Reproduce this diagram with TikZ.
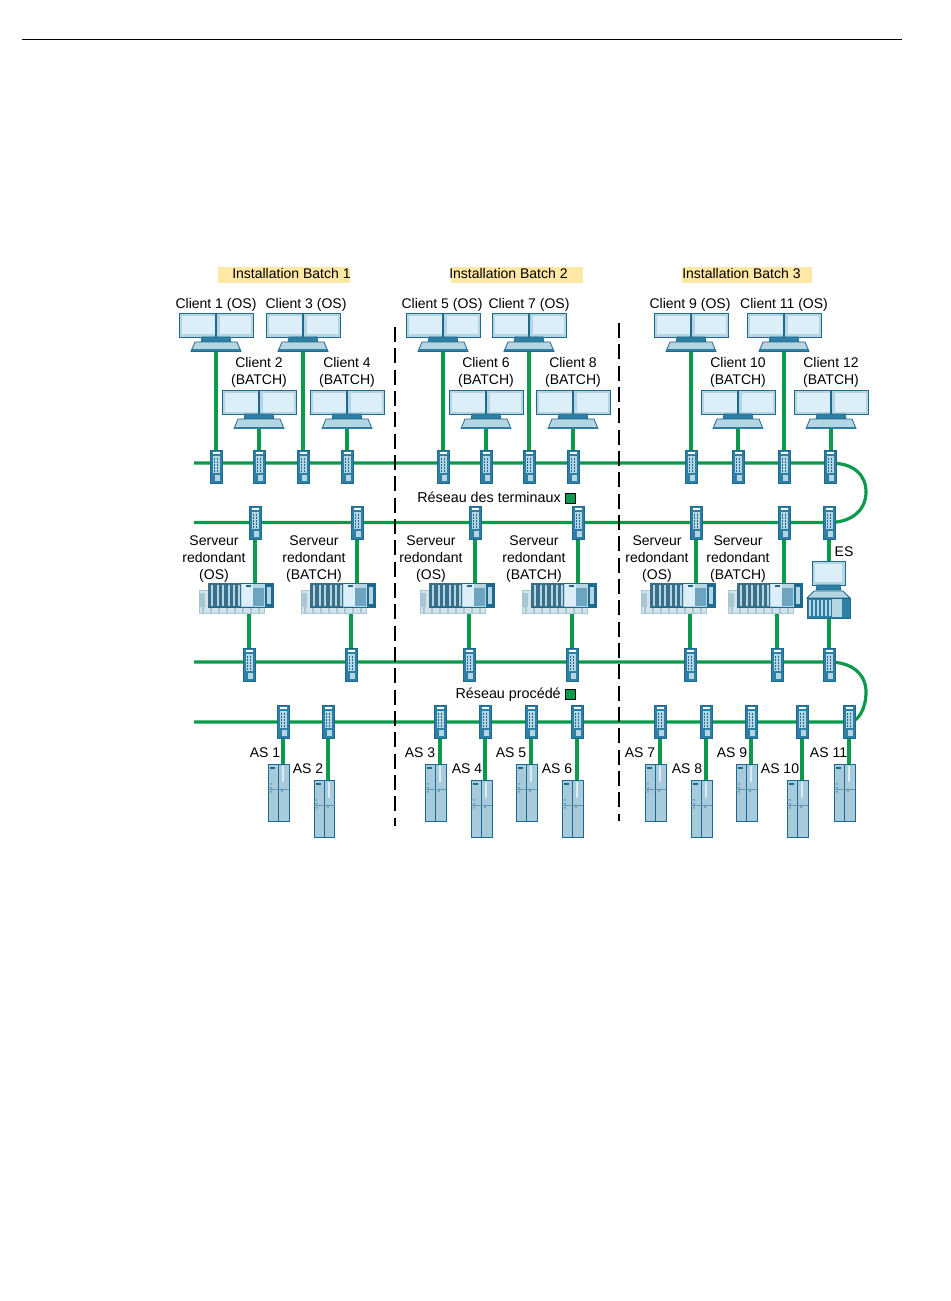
\documentclass[tikz,border=0pt]{standalone}
\usepackage{fontspec}
\setmainfont{Liberation Sans}
\pgfdeclarelayer{netlayer}
\pgfsetlayers{netlayer,main}
\definecolor{netgreen}{HTML}{0A9A4C}
\definecolor{devline}{HTML}{1C6A90}
\definecolor{devmid}{HTML}{2F7FA5}
\definecolor{devlight}{HTML}{B5D5E3}
\definecolor{screenc}{HTML}{DCEEF7}
\definecolor{ghostc}{HTML}{D3E3EA}
\definecolor{ghostl}{HTML}{A9C6D4}
\definecolor{ascol}{HTML}{A8CBDB}
\definecolor{batchc}{HTML}{FFE7A6}
\tikzset{
  netline/.style={draw=netgreen,line width=2.4pt},
  sepline/.style={draw=black,line width=2.2pt,dash pattern=on 11.3pt off 4.7pt},
  lab/.style={font=\fontsize{10.5}{12.75}\selectfont,align=center,inner sep=0pt,text=black},
  netlab/.style={lab,font=\fontsize{10.75}{12.75}\selectfont,anchor=base east},
  switchnode/.style={draw=devline,fill=devmid,line width=.6pt,minimum width=9pt,minimum height=24.5pt,inner sep=0pt},
  monnode/.style={inner sep=0pt,minimum width=55.5pt,minimum height=29pt,anchor=north},
  srvnode/.style={draw=devline,fill=devlight,line width=.7pt,inner sep=0pt,minimum width=48.5pt,minimum height=18pt,anchor=north west},
  asnode/.style={draw=devline,fill=ascol,line width=.7pt,inner sep=0pt,minimum width=15.5pt,minimum height=42.5pt,anchor=north west},
  esnode/.style={inner sep=0pt,minimum width=33pt,minimum height=42.5pt,anchor=north},
  batchbar/.style={fill=batchc,inner sep=0pt,minimum height=12pt},
  legendsq/.style={draw=black,fill=netgreen,line width=.6pt,minimum size=7.5pt,inner sep=0pt},
}
% name, x, y centre
\newcommand{\swbox}[3]{%
  \node[switchnode] (#1) at (#2,#3) {};
  \begin{scope}[shift={(#2,#3)}]
    \fill[devlight] (-3.5,-11) rectangle (3.5,6);
    \fill[white] (-3.5,-15) rectangle (3.5,-13);
    \fill[devlight] (-1,8) rectangle (4,14);
    \foreach \dy in {-9,-6,-3,0,3}{
      \fill[devline] (-2.4,\dy) rectangle (-.6,\dy+1.6);
      \fill[devline] (.6,\dy) rectangle (2.4,\dy+1.6);
    }
  \end{scope}}
% name, centre x, top y
\newcommand{\monbox}[3]{%
  \node[monnode] (#1) at (#2,#3) {};
  \begin{scope}[shift={(#2,#3)}]
    \draw[devline,fill=devlight,line width=.7pt] (-37,0) rectangle (37,24);
    \fill[screenc] (-34,3) rectangle (-1.5,21.5);
    \fill[screenc] (3.5,3) rectangle (34.5,21.5);
    \draw[devline,line width=.8pt] (0,0) -- (0,24);
    \draw[devline,fill=devmid,line width=.5pt] (-14,24) -- (14,24) -- (15,29) -- (-15,29) -- cycle;
    \draw[devline,fill=devlight,line width=.6pt] (-21,29) -- (21,29) -- (25,38.5) -- (-25,38.5) -- cycle;
    \fill[devmid] (-25,36.5) rectangle (25,38.5);
  \end{scope}}
% name, left x
\newcommand{\srvbox}[2]{%
  \begin{scope}[shift={(#2,583)}]
    \draw[ghostl,fill=ghostc,line width=.6pt] (-9,7) rectangle (56,30);
    \foreach \sx in {-6,2,10,18,26,34,42,50}{\fill[ghostl] (\sx,24) rectangle (\sx+2,30);}
    \fill[ghostl] (-8,10) rectangle (-3,24);
  \end{scope}
  \node[srvnode] (#1) at (#2,583) {};
  \begin{scope}[shift={(#2,583)}]
    \fill[devmid!75!black!90] (0,0) rectangle (33,24);
    \foreach \sx in {3,8.5,14,19.5,25,30}{\fill[devlight] (\sx,1.5) rectangle (\sx+2.4,22.5);}
    \fill[screenc] (34,1) rectangle (45,23);
    \fill[devmid!70] (45,5) rectangle (56,23);
    \fill[devline] (57,1) rectangle (65,24);
    \fill[devlight] (59,4) rectangle (63,21);
    \fill[devline] (38,2) rectangle (43,4);
  \end{scope}}
% name, left x, top y
\newcommand{\asbox}[3]{%
  \node[asnode] (#1) at (#2,#3) {};
  \begin{scope}[shift={(#2,#3)}]
    \draw[devline,line width=.7pt] (10.5,0) -- (10.5,57);
    \draw[devline!70,line width=.3pt] (0,25) -- (21,25);
    \fill[devline] (2,3) rectangle (7,5);
    \fill[white!60!ascol] (14,2) rectangle (16,18);
    \fill[devmid!70] (2,19) rectangle (4,20.5) (2,23) rectangle (4,24.5) (2,27) rectangle (4,28.5);
    \fill[devmid!70] (13,26) rectangle (15,28);
  \end{scope}}
\begin{document}
\begin{tikzpicture}[x=.75pt,y=-.75pt]
\useasboundingbox (0,0) rectangle (950,1301);
\begin{pgfonlayer}{netlayer}
\fill[white] (0,0) rectangle (950,1301);
\end{pgfonlayer}
\coordinate (ruleL) at (22,39);
\coordinate (ruleR) at (902,39);
\draw[black,line width=.7pt] (ruleL) -- (ruleR);

% batch titles
\node[batchbar,minimum width=99pt] (b1bar) at (284,275) {};
\node[batchbar,minimum width=99pt] (b2bar) at (517,275) {};
\node[batchbar,minimum width=97.5pt] (b3bar) at (747,275) {};
\node[lab,anchor=west] (b1) at (232,273.5) {Installation Batch 1};
\node[lab,anchor=west] (b2) at (449,273.5) {Installation Batch 2};
\node[lab,anchor=west] (b3) at (682,273.5) {Installation Batch 3};

% monitors
\foreach \n/\x in {m1/216,m3/303,m5/443,m7/529,m9/691,m11/784}{\monbox{\n}{\x}{313}}
\foreach \n/\x in {m2/259,m4/347,m6/486,m8/573,m10/738,m12/831}{\monbox{\n}{\x}{390}}

% switches
\foreach \n/\x in {a1/216,a2/259,a3/303,a4/347,a5/443,a6/486,a7/529,a8/573,a9/691,a10/738,a11/784,a12/830}{\swbox{\n}{\x}{467}}
\foreach \n/\x in {b1s/255,b2s/357,b3s/475,b4s/578,b5s/696,b6s/784,b7s/829}{\swbox{\n}{\x}{523}}
\foreach \n/\x in {c1s/249,c2s/351,c3s/469,c4s/572,c5s/690,c6s/777,c7s/829}{\swbox{\n}{\x}{665}}
\foreach \n/\x in {d1/283,d2/328,d3/440,d4/485,d5/531,d6/577,d7/660,d8/706,d9/751,d10/802,d11/849}{\swbox{\n}{\x}{722}}

% servers
\foreach \n/\x in {s1/208,s2/310,s3/429,s4/531,s5/650,s6/737}{\srvbox{\n}{\x}}

% ES
\node[esnode] (es) at (829,561) {};
\begin{scope}[shift={(829,561)}]
  \draw[devline,fill=devlight,line width=.7pt] (-17,0) rectangle (16,24);
  \fill[screenc] (-14,3) rectangle (13,21);
  \draw[devline,fill=devmid,line width=.5pt] (-12,24) -- (11,24) -- (12,29) -- (-13,29) -- cycle;
  \draw[devline,fill=devlight,line width=.6pt] (-15,30) -- (14,30) -- (21,37) -- (-22,37) -- cycle;
  \draw[devline,fill=devmid,line width=.7pt] (-22,37) rectangle (21,57);
  \foreach \sx in {-20,-16,-12,-8,-4,0}{\fill[devlight] (\sx,39) rectangle (\sx+2,55);}
  \fill[devlight] (3,38) rectangle (13,56);
\end{scope}

% AS
\asbox{as1}{268}{764}
\asbox{as2}{313.5}{780}
\asbox{as3}{425}{764}
\asbox{as4}{471}{780}
\asbox{as5}{516}{764}
\asbox{as6}{562}{780}
\asbox{as7}{645}{764}
\asbox{as8}{691}{780}
\asbox{as9}{736}{764}
\asbox{as10}{787}{780}
\asbox{as11}{834}{764}

% connectors
\coordinate (row1) at (194,463);
\coordinate (row2) at (194,522.5);
\coordinate (row3) at (194,662);
\coordinate (row4) at (194,722);
\begin{pgfonlayer}{netlayer}
  \draw[netline] (row1) -- (row1 -| a12) .. controls +(24,0) and (866,475) .. (866,492) .. controls (866,509) and (853,522.5) .. (row2 -| b7s) -- (row2);
  \draw[netline] (row3) -- (row3 -| c7s) .. controls +(24,0) and (866,675) .. (866,692) .. controls (866,709) and (858,722) .. (row4 -| d11) -- (row4);
  \foreach \m/\s in {m1/a1,m2/a2,m3/a3,m4/a4,m5/a5,m6/a6,m7/a7,m8/a8,m9/a9,m10/a10,m11/a11,m12/a12}{
    \draw[netline] (\m.south) -- (\m.south |- \s.center);
  }
  \foreach \t/\s/\b in {b1s/s1/c1s,b2s/s2/c2s,b3s/s3/c3s,b4s/s4/c4s,b5s/s5/c5s,b6s/s6/c6s}{
    \draw[netline] (\t.center) -- (\t.center |- \s.north);
    \draw[netline] (\b.center) -- (\b.center |- \s.south);
  }
  \draw[netline] (b7s.center) -- (b7s.center |- es.north);
  \draw[netline] (c7s.center) -- (c7s.center |- es.south);
  \foreach \s/\a in {d1/as1,d2/as2,d3/as3,d4/as4,d5/as5,d6/as6,d7/as7,d8/as8,d9/as9,d10/as10,d11/as11}{
    \draw[netline] (\s.center) -- (\s.center |- \a.north);
  }
\end{pgfonlayer}

% separators
\coordinate (sep1t) at (395,327);
\coordinate (sep1b) at (395,826);
\coordinate (sep2t) at (619,323);
\coordinate (sep2b) at (619,821);
\draw[sepline] (sep1t) -- (sep1b);
\draw[sepline] (sep2t) -- (sep2b);

% client labels
\foreach \n/\x/\t in {l1/216/Client 1 (OS),l3/306/Client 3 (OS),l5/442/Client 5 (OS),l7/529/Client 7 (OS),l9/690/Client 9 (OS),l11/784/Client 11 (OS)}{
  \node[lab] (\n) at (\x,304.5) {\t};
}
\foreach \n/\x/\t in {l2/259/Client 2,l4/347/Client 4,l6/486/Client 6,l8/573/Client 8,l10/738/Client 10,l12/831/Client 12}{
  \node[lab] (\n) at (\x,372.5) {\t\\(BATCH)};
}
% server labels
\foreach \n/\x/\t in {r1/214/OS,r2/314/BATCH,r3/431/OS,r4/534/BATCH,r5/657/OS,r6/738/BATCH}{
  \node[lab] (\n) at (\x,559) {Serveur\\redondant\\(\t)};
}
\node[lab] (lES) at (844,552) {ES};

% network labels
\node[netlab] (net1) at (561,502.5) {Réseau des terminaux};
\node[legendsq] (sq1) at (570,498) {};
\node[netlab] (net2) at (561,698.5) {Réseau procédé};
\node[legendsq] (sq2) at (570,694) {};

% AS labels
\foreach \n/\x/\y/\t in {t1/265/753/AS 1,t2/308/769/AS 2,t3/420/753/AS 3,t4/467/769/AS 4,t5/511/753/AS 5,t6/557/769/AS 6,t7/640/753/AS 7,t8/687/769/AS 8,t9/732/753/AS 9,t10/780/769/AS 10,t11/828.5/753/AS 11}{
  \node[lab] (\n) at (\x,\y) {\t};
}
\end{tikzpicture}
\end{document}
